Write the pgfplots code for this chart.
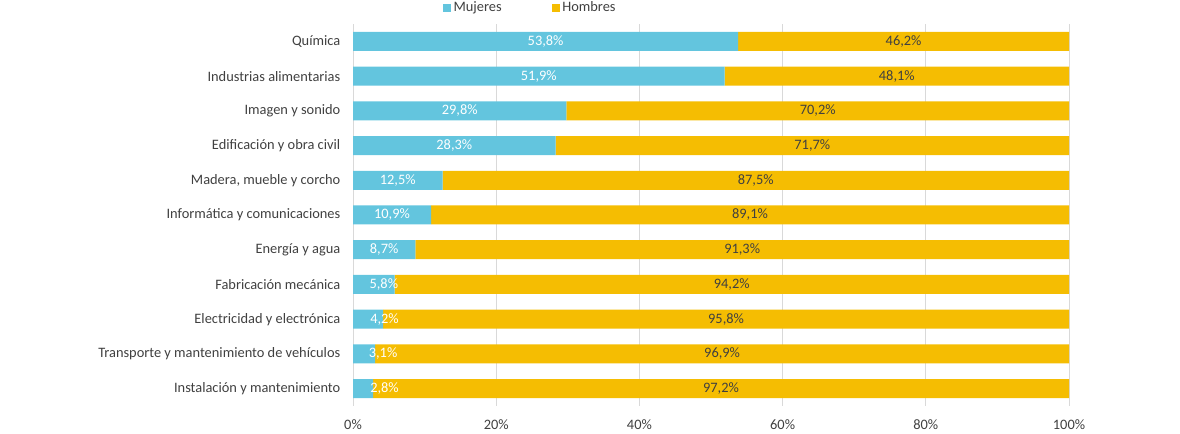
\documentclass[border=0pt]{standalone}
\usepackage{pgfplots}
\pgfplotsset{compat=1.18}
\usepackage{fontspec}
\setmainfont{Carlito}
\definecolor{mujcol}{HTML}{63C5DE}
\definecolor{homcol}{HTML}{F5BD02}
\definecolor{txtcol}{HTML}{404040}
\definecolor{gridcol}{HTML}{D9D9D9}
\begin{document}
\begin{tikzpicture}
\useasboundingbox (0,0) rectangle (885pt,325.5pt);
\pgfplotsset{
  commonax/.style={
    at={(264.75pt,21pt)}, anchor=south west,
    scale only axis, width=537pt, height=286.5pt,
    xmin=0, xmax=100, ymin=-0.5, ymax=10.5,
  }
}
\begin{axis}[
  commonax,
  xbar stacked, bar width=14.25pt,
  /pgf/number format/assume math mode=true,
  font=\fontsize{10.8}{12}\selectfont,
  xtick={0,20,40,60,80,100},
  xticklabel={\pgfmathprintnumber{\tick}\%},
  ytick={0,1,2,3,4,5,6,7,8,9,10},
  yticklabels={Instalación y mantenimiento,Transporte y mantenimiento de vehículos,Electricidad y electrónica,Fabricación mecánica,Energía y agua,Informática y comunicaciones,{Madera, mueble y corcho},Edificación y obra civil,Imagen y sonido,Industrias alimentarias,Química},
  ticklabel style={text=txtcol},
  yticklabel style={xshift=-6pt},
  xticklabel style={yshift=-7pt},
  axis line style={draw=none},
  major tick style={draw=none},
  xmajorgrids, grid style={color=gridcol, line width=0.75pt},
  legend columns=2,
  legend style={at={(axis description cs:0.248,1.043)}, anchor=center, draw=none, fill=none,
    font=\fontsize{10.8}{12}\selectfont, text=txtcol,
    /tikz/every even column/.append style={column sep=35.5pt}},
  legend image code/.code={\fill[#1] (0pt,-3pt) rectangle (6pt,3pt);},
]
\addplot[fill=mujcol, draw=none] coordinates {
  (53.8,10) (51.9,9) (29.8,8) (28.3,7) (12.5,6) (10.9,5) (8.7,4) (5.8,3) (4.2,2) (3.1,1) (2.8,0)};
\addplot[fill=homcol, draw=none] coordinates {
  (46.2,10) (48.1,9) (70.2,8) (71.7,7) (87.5,6) (89.1,5) (91.3,4) (94.2,3) (95.8,2) (96.9,1) (97.2,0)};
\legend{Mujeres,Hombres}
\end{axis}
\begin{axis}[
  commonax, hide axis,
  /pgf/number format/assume math mode=true,
  nodes near coords={\pgfmathprintnumber[fixed,fixed zerofill,precision=1,use comma]{\pgfplotspointmeta}\%},
  point meta=explicit,
]
\addplot[draw=none, mark=none,
  every node near coord/.append style={anchor=center, text=white, font=\fontsize{10.8}{12}\selectfont}]
  coordinates {
  (26.9,10) [53.8] (25.95,9) [51.9] (14.9,8) [29.8] (14.15,7) [28.3] (6.25,6) [12.5]
  (5.45,5) [10.9] (4.35,4) [8.7] (4.3,3) [5.8] (4.4,2) [4.2] (4.2,1) [3.1] (4.4,0) [2.8]};
\addplot[draw=none, mark=none,
  every node near coord/.append style={anchor=center, text=txtcol, font=\fontsize{10.8}{12}\selectfont}]
  coordinates {
  (76.9,10) [46.2] (75.95,9) [48.1] (64.9,8) [70.2] (64.15,7) [71.7] (56.25,6) [87.5]
  (55.45,5) [89.1] (54.35,4) [91.3] (52.9,3) [94.2] (52.1,2) [95.8] (51.55,1) [96.9] (51.4,0) [97.2]};
\end{axis}
\end{tikzpicture}
\end{document}
